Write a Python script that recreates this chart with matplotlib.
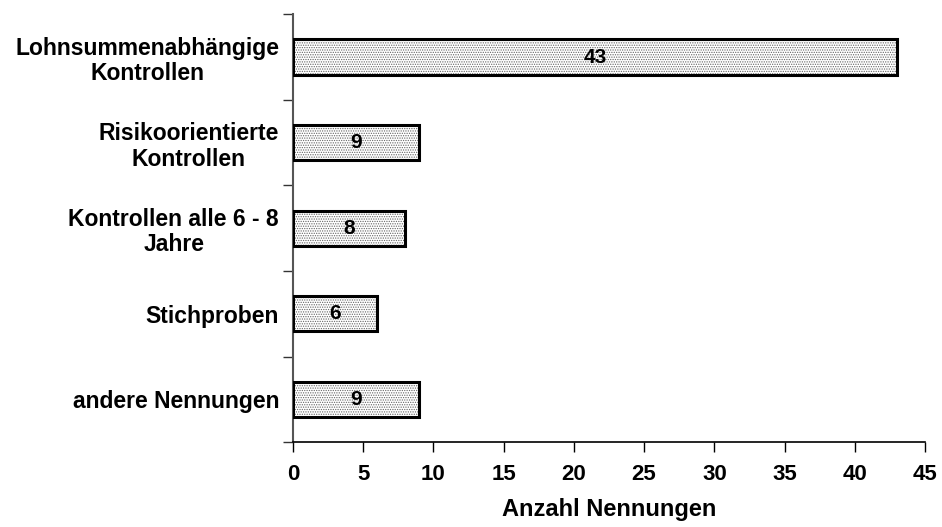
import matplotlib.pyplot as plt
import numpy as np

plt.rcParams['font.family'] = ['Liberation Sans', 'DejaVu Sans']
plt.rcParams['font.weight'] = 'bold'
plt.rcParams['hatch.linewidth'] = 0.6

categories = ['Lohnsummenabhängige\nKontrollen', 'Risikoorientierte\nKontrollen',
              'Kontrollen alle 6 - 8\nJahre', 'Stichproben', 'andere Nennungen']
counts = [43, 9, 8, 6, 9]
xticks = [0, 5, 10, 15, 20, 25, 30, 35, 40, 45]

fig = plt.figure(figsize=(9.42, 5.27), dpi=100)
ax = fig.add_axes([0.311, 0.161, 0.671, 0.812])

y = np.arange(len(categories))
# dotted fill first, then the black outline on top
ax.barh(y, counts, height=0.41, color='white', edgecolor='#666666',
        hatch='.......', linewidth=0, zorder=2)
ax.barh(y, counts, height=0.41, fill=False, edgecolor='black',
        linewidth=2.2, zorder=3)

for yi, c in zip(y, counts):
    ax.text(c / 2, yi, str(c), ha='center', va='center',
            fontsize=15, fontweight='bold', zorder=4)

ax.set_xlim(0, 45)
ax.set_ylim(len(categories) - 0.5, -0.5)
ax.set_xticks(xticks)
ax.set_xticklabels([str(t) for t in xticks], fontsize=16, fontweight='bold')
ax.set_yticks(y)
ax.set_yticklabels(categories, fontsize=16.5, fontweight='bold',
                   ha='right', multialignment='center', linespacing=1.15)
ax.tick_params(axis='y', length=0, pad=10)
ax.set_yticks(np.arange(len(categories) + 1) - 0.5, minor=True)
ax.tick_params(axis='y', which='minor', length=7, width=1, color='#333333')
ax.tick_params(axis='x', length=7, width=1, pad=9)

ax.spines['top'].set_visible(False)
ax.spines['right'].set_visible(False)
ax.spines['left'].set_color('#555555')
ax.spines['left'].set_linewidth(1.5)
ax.spines['bottom'].set_linewidth(1.2)

ax.set_xlabel('Anzahl Nennungen', fontsize=17, fontweight='bold', labelpad=9)

fig.savefig('out.png', dpi=100)
